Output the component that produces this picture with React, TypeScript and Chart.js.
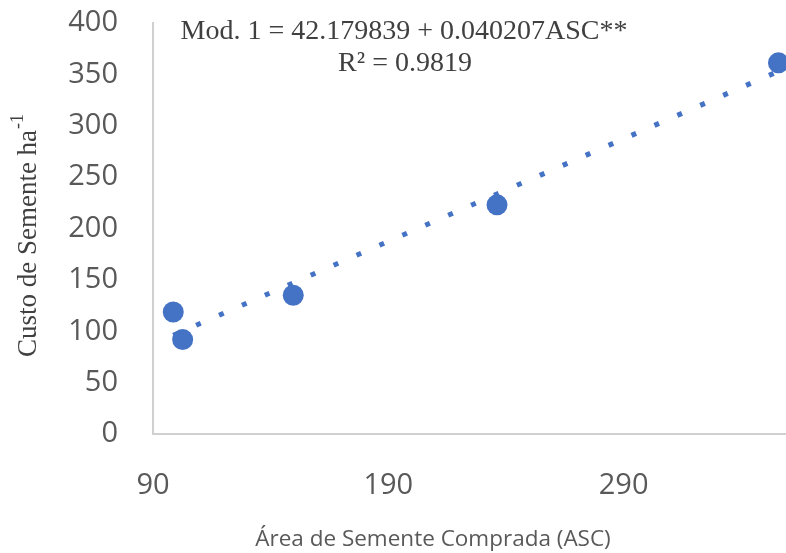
import React, { useEffect, useRef } from "react";
import { Chart, registerables } from "chart.js";

Chart.register(...registerables);

// ---- data ----
const X_VALUES = [98.6, 102.6, 149.6, 236.2, 355.8];
const Y_VALUES = [118.7, 91.9, 135.0, 223.0, 361.2];
const X_TICKS = [90, 190, 290];
const Y_TICKS = [0, 50, 100, 150, 200, 250, 300, 350, 400];
const X_MIN = 90;
const X_MAX = 359;
const Y_MIN = 0;
const Y_MAX = 400;
const EQUATION_LINES = ["Mod. 1 = 42.179839 + 0.040207ASC**", "R² = 0.9819"];
const X_TITLE = "Área de Semente Comprada (ASC)";
const Y_TITLE = "Custo de Semente ha";
const Y_TITLE_SUP = "-1";

const BLUE = "#4472C4";
const TICK_COLOR = "#595959";
const TEXT_COLOR = "#404040";
const AXIS_COLOR = "#d0d0d0";
const TICK_FONT = "'Open Sans', sans-serif";
const SERIF = "'Liberation Serif', 'Times New Roman', serif";

function linearFit(xs: number[], ys: number[]) {
  const n = xs.length;
  const mx = xs.reduce((a, b) => a + b, 0) / n;
  const my = ys.reduce((a, b) => a + b, 0) / n;
  let sxy = 0;
  let sxx = 0;
  for (let i = 0; i < n; i++) {
    sxy += (xs[i] - mx) * (ys[i] - my);
    sxx += (xs[i] - mx) * (xs[i] - mx);
  }
  const slope = sxy / sxx;
  return { slope, intercept: my - slope * mx };
}

const textPlugin = {
  id: "textPlugin",
  afterDraw(chart: any) {
    const ctx = chart.ctx as CanvasRenderingContext2D;
    ctx.save();
    // equation
    ctx.fillStyle = TEXT_COLOR;
    ctx.font = `28px ${SERIF}`;
    ctx.textAlign = "center";
    ctx.textBaseline = "middle";
    ctx.fillText(EQUATION_LINES[0], 404, 32);
    ctx.fillText(EQUATION_LINES[1], 405, 64);
    // x title
    ctx.fillStyle = TICK_COLOR;
    ctx.font = `22.5px 'Open Sans', sans-serif`;
    ctx.fillText(X_TITLE, 433, 540);
    // y title (rotated, with superscript)
    ctx.translate(27, 236);
    ctx.rotate(-Math.PI / 2);
    ctx.fillStyle = TEXT_COLOR;
    ctx.textAlign = "left";
    ctx.textBaseline = "alphabetic";
    ctx.font = `27px ${SERIF}`;
    const w1 = ctx.measureText(Y_TITLE).width;
    ctx.font = `18px ${SERIF}`;
    const w2 = ctx.measureText(Y_TITLE_SUP).width;
    const start = -(w1 + w2) / 2;
    ctx.font = `27px ${SERIF}`;
    ctx.fillText(Y_TITLE, start, 9);
    ctx.font = `18px ${SERIF}`;
    ctx.fillText(Y_TITLE_SUP, start + w1 + 1, -4);
    ctx.restore();
  },
};

export default function App() {
  const ref = useRef<HTMLCanvasElement | null>(null);
  useEffect(() => {
    if (!ref.current) return;
    const fit = linearFit(X_VALUES, Y_VALUES);
    const xStart = Math.min(...X_VALUES);
    const xEnd = Math.max(...X_VALUES);
    const points = X_VALUES.map((x, i) => ({ x, y: Y_VALUES[i] }));
    const trend = [
      { x: xStart, y: fit.intercept + fit.slope * xStart },
      { x: xEnd, y: fit.intercept + fit.slope * xEnd },
    ];
    const chart = new Chart(ref.current, {
      type: "scatter",
      data: {
        datasets: [
          {
            label: "Custo",
            data: points,
            backgroundColor: BLUE,
            borderColor: BLUE,
            borderWidth: 0,
            pointRadius: 10.5,
            pointHoverRadius: 10.5,
            order: 0,
            clip: false,
          } as any,
          {
            type: "line",
            label: "Tendência",
            data: trend,
            borderColor: BLUE,
            borderWidth: 5,
            borderDash: [5, 20],
            borderCapStyle: "butt",
            pointRadius: 0,
            fill: false,
            order: 1,
            clip: false,
          } as any,
        ],
      },
      options: {
        responsive: false,
        animation: false,
        layout: { autoPadding: false, padding: { left: 0, right: 0, top: 23, bottom: 0 } },
        plugins: {
          legend: { display: false },
          tooltip: { enabled: false },
          title: { display: false },
        },
        scales: {
          x: {
            type: "linear",
            min: X_MIN,
            max: X_MAX,
            afterBuildTicks: (scale: any) => {
              scale.ticks = X_TICKS.map((v) => ({ value: v }));
            },
            afterFit: (scale: any) => {
              scale.height = 119;
            },
            grid: {
              display: true,
              drawOnChartArea: false,
              drawTicks: true,
              tickLength: 31,
              color: "rgba(0,0,0,0)",
            },
            border: { display: true, color: AXIS_COLOR, width: 2 },
            ticks: {
              color: TICK_COLOR,
              font: { family: TICK_FONT, size: 29 },
              padding: 3,
              maxRotation: 0,
              autoSkip: false,
            },
          },
          y: {
            type: "linear",
            min: Y_MIN,
            max: Y_MAX,
            afterBuildTicks: (scale: any) => {
              scale.ticks = Y_TICKS.map((v) => ({ value: v }));
            },
            afterFit: (scale: any) => {
              scale.width = 153;
            },
            grid: {
              display: true,
              drawOnChartArea: false,
              drawTicks: true,
              tickLength: 32,
              color: "rgba(0,0,0,0)",
            },
            border: { display: true, color: AXIS_COLOR, width: 2 },
            ticks: {
              color: TICK_COLOR,
              font: { family: TICK_FONT, size: 29 },
              padding: 3,
              autoSkip: false,
            },
          },
        },
      },
      plugins: [textPlugin],
    });
    return () => chart.destroy();
  }, []);
  return (
    <div style={{ position: "absolute", left: 0, top: 0, width: 786, height: 553, background: "#fff" }}>
      <canvas ref={ref} width={786} height={553} style={{ display: "block" }} />
    </div>
  );
}
